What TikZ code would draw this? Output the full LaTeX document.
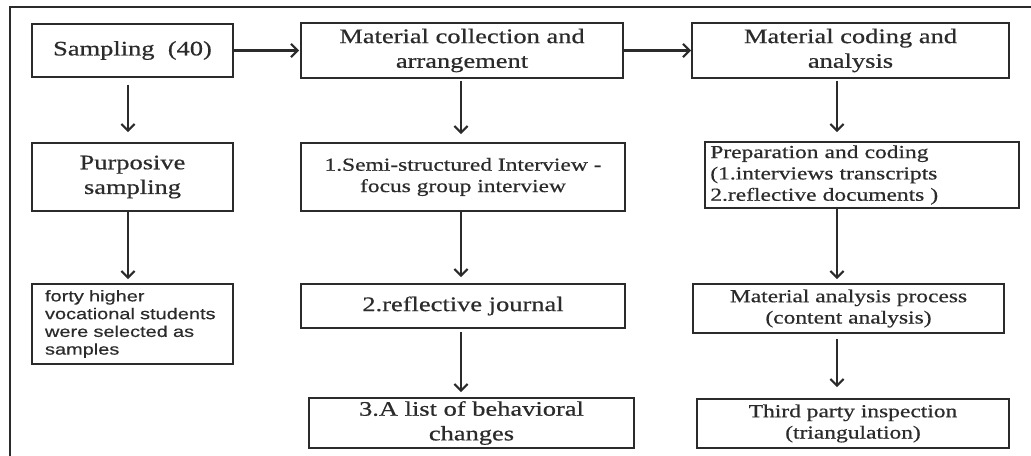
\documentclass[tikz,border=0pt]{standalone}
\usepackage{fontspec}
\setmainfont{Liberation Serif}[FakeStretch=1.28,FakeBold=0.6]
\newfontfamily\sansf{Liberation Sans}[FakeStretch=1.28,FakeBold=0.4]
\usetikzlibrary{arrows.meta}
\definecolor{ink}{HTML}{2B2B2B}
\begin{document}
\begin{tikzpicture}[x=0.75pt,y=-0.75pt,
  box/.style={draw=ink, line width=1.3pt, text=ink, inner sep=0pt, align=center},
  big/.style={font=\fontsize{15.5}{18.5}\selectfont},
  small/.style={font=\fontsize{13.75}{16}\selectfont},
  arr/.style={draw=ink, line width=1.8pt, -{Straight Barb[length=5pt,width=10pt,line width=1.6pt]}}]
\useasboundingbox (0,0) rectangle (1031,456);
% frame
\draw[ink, line width=1.6pt] (10,456) -- (10,7) -- (1031,7);
% column 1
\node[box, big, minimum width=150.75pt, minimum height=39.75pt] (S) at (132.5,50.5) {Sampling~~(40)};
\node[box, big, minimum width=150.75pt, minimum height=51pt] (P) at (132.5,177) {Purposive\\sampling};
\node[box, font=\sansf\fontsize{11.7}{13.3}\selectfont, align=left, text width=131.25pt, inner xsep=9.75pt, minimum height=60pt] (F) at (132.5,324) {forty higher\\vocational students\\were selected as\\samples};
% column 2
\node[box, big, minimum width=241.5pt, minimum height=41.25pt] (MC) at (462,50.5) {Material collection and\\arrangement};
\node[box, small, minimum width=243pt, minimum height=51pt] (SI) at (463,177) {1.Semi-structured Interview -\\focus group interview};
\node[box, big, minimum width=243pt, minimum height=33pt] (J) at (463,306) {2.reflective journal};
\node[box, big, minimum width=243.75pt, minimum height=37.5pt] (L) at (471.5,423) {3.A list of behavioral\\changes};
% column 3
\node[box, big, minimum width=237.75pt, minimum height=41.25pt] (MA) at (850.5,50.5) {Material coding and\\analysis};
\node[box, small, align=left, text width=227.5pt, inner xsep=4pt, minimum height=49.5pt] (PR) at (862,175) {Preparation and coding\\(1.interviews transcripts\\2.reflective documents )};
\node[box, small, minimum width=233.25pt, minimum height=36.75pt] (MP) at (848.5,308.5) {Material analysis process\\(content analysis)};
\node[box, small, minimum width=234pt, minimum height=36.75pt] (T) at (853,423.5) {Third party inspection\\(triangulation)};
% arrow columns
\coordinate (c1) at (128,0);
\coordinate (c2) at (461,0);
\coordinate (c3) at (837,0);
% horizontal arrows
\draw[arr, shorten >=0.75pt] (S) -- (MC);
\draw[arr] (MC) -- (MA);
% vertical arrows
\draw[arr, shorten <=5pt, shorten >=7.5pt] (S.south -| c1) -- (P.north -| c1);
\draw[arr, shorten >=3pt] (P.south -| c1) -- (F.north -| c1);
\draw[arr, shorten <=1.5pt, shorten >=6pt] (MC.south -| c2) -- (SI.north -| c2);
\draw[arr, shorten >=4.5pt] (SI.south -| c2) -- (J.north -| c2);
\draw[arr, shorten <=2.25pt, shorten >=3.75pt] (J.south -| c2) -- (L.north -| c2);
\draw[arr, shorten <=1.5pt, shorten >=6.75pt] (MA.south -| c3) -- (PR.north -| c3);
\draw[arr, shorten >=3pt] (PR.south -| c3) -- (MP.north -| c3);
\draw[arr, shorten <=3.75pt, shorten >=8.25pt] (MP.south -| c3) -- (T.north -| c3);
\end{tikzpicture}
\end{document}
